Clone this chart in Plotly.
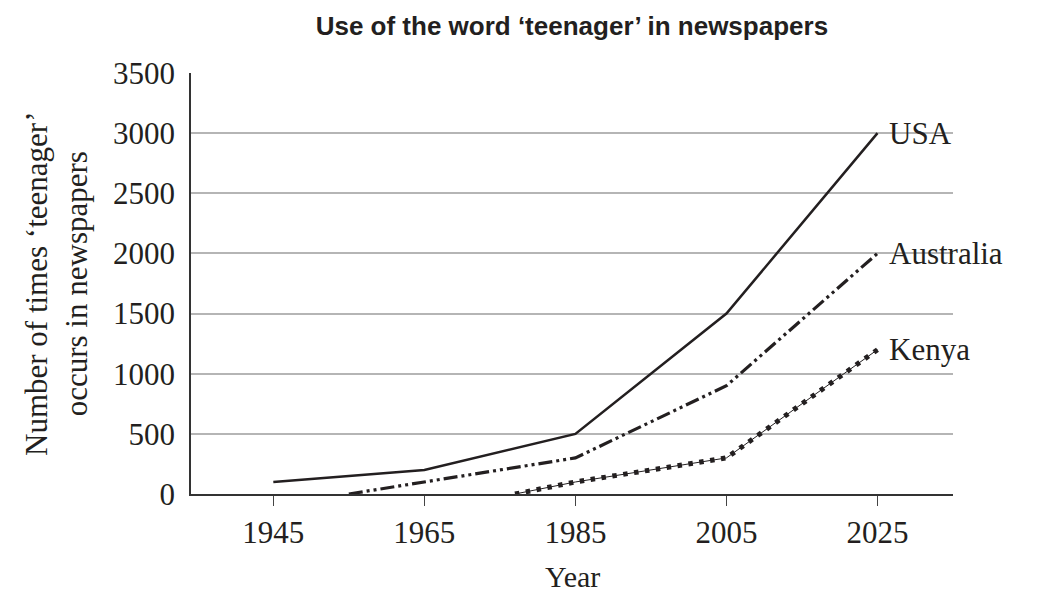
import plotly.graph_objects as go

# data
usa_years = [1945, 1965, 1985, 2005, 2025]
usa_counts = [100, 200, 500, 1500, 3000]

aus_years = [1955, 1965, 1985, 2005, 2025]
aus_counts = [0, 100, 300, 900, 2000]

kenya_years = [1977, 1985, 2005, 2025]
kenya_counts = [0, 100, 300, 1200]

year_ticks = [1945, 1965, 1985, 2005, 2025]
count_ticks = [0, 500, 1000, 1500, 2000, 2500, 3000, 3500]

serif = "Liberation Serif, Times New Roman, serif"
ink = "#231f20"

fig = go.Figure()

fig.add_trace(go.Scatter(x=usa_years, y=usa_counts, mode="lines", name="USA",
                         line=dict(color=ink, width=2.5)))
fig.add_trace(go.Scatter(x=aus_years, y=aus_counts, mode="lines", name="Australia",
                         line=dict(color=ink, width=3.2, dash="14px,4px,3px,4px,3px,4px")))
# Kenya: thin line with beads along it
fig.add_trace(go.Scatter(x=kenya_years, y=kenya_counts, mode="lines", name="Kenya",
                         line=dict(color=ink, width=1)))
fig.add_trace(go.Scatter(x=kenya_years, y=kenya_counts, mode="lines", name="Kenya dots",
                         line=dict(color=ink, width=5, dash="4.5px,6.5px")))

# line end labels
for name, yr, val in [("USA", usa_years[-1], usa_counts[-1]),
                      ("Australia", aus_years[-1], aus_counts[-1]),
                      ("Kenya", kenya_years[-1], kenya_counts[-1])]:
    fig.add_annotation(x=yr, y=val, text=name, showarrow=False, xanchor="left",
                       yanchor="middle", xshift=10,
                       font=dict(family=serif, size=31, color=ink))

fig.add_annotation(xref="paper", yref="paper", x=-0.1765, y=0.5,
                   text="Number of times ‘teenager’<br>occurs in newspapers",
                   textangle=-90, showarrow=False, xanchor="center", yanchor="middle",
                   font=dict(family=serif, size=31, color=ink))
fig.add_annotation(xref="paper", yref="paper", x=0.5, y=-0.195, text="Year",
                   showarrow=False, xanchor="center", yanchor="middle",
                   font=dict(family=serif, size=30, color=ink))

# the page adds an 8px body margin, so the margins are shifted by that much
fig.update_layout(
    width=1054, height=592,
    margin=dict(l=183, r=109, t=65, b=106),
    paper_bgcolor="white", plot_bgcolor="white",
    showlegend=False,
    title=dict(text="<b>Use of the word ‘teenager’ in newspapers</b>",
               x=0.535, xanchor="center", y=0.9696, yanchor="middle",
               font=dict(family="Liberation Sans, Arial, sans-serif", size=26, color=ink)),
)
fig.update_xaxes(range=[1934.1, 2035], tickvals=year_ticks,
                 ticks="outside", ticklen=10, tickwidth=1.2, tickcolor="#444",
                 showline=True, linecolor="#333", linewidth=1.5,
                 showgrid=False, zeroline=False,
                 tickfont=dict(family=serif, size=31, color=ink))
fig.update_yaxes(range=[0, 3500], tickvals=count_ticks,
                 ticks="", showline=True, linecolor="#333", linewidth=1.5,
                 showgrid=True, gridcolor="#b5b5b5", gridwidth=1.5, zeroline=False,
                 ticklabelstandoff=8,
                 tickfont=dict(family=serif, size=31, color=ink))

fig.write_html("out.html")
